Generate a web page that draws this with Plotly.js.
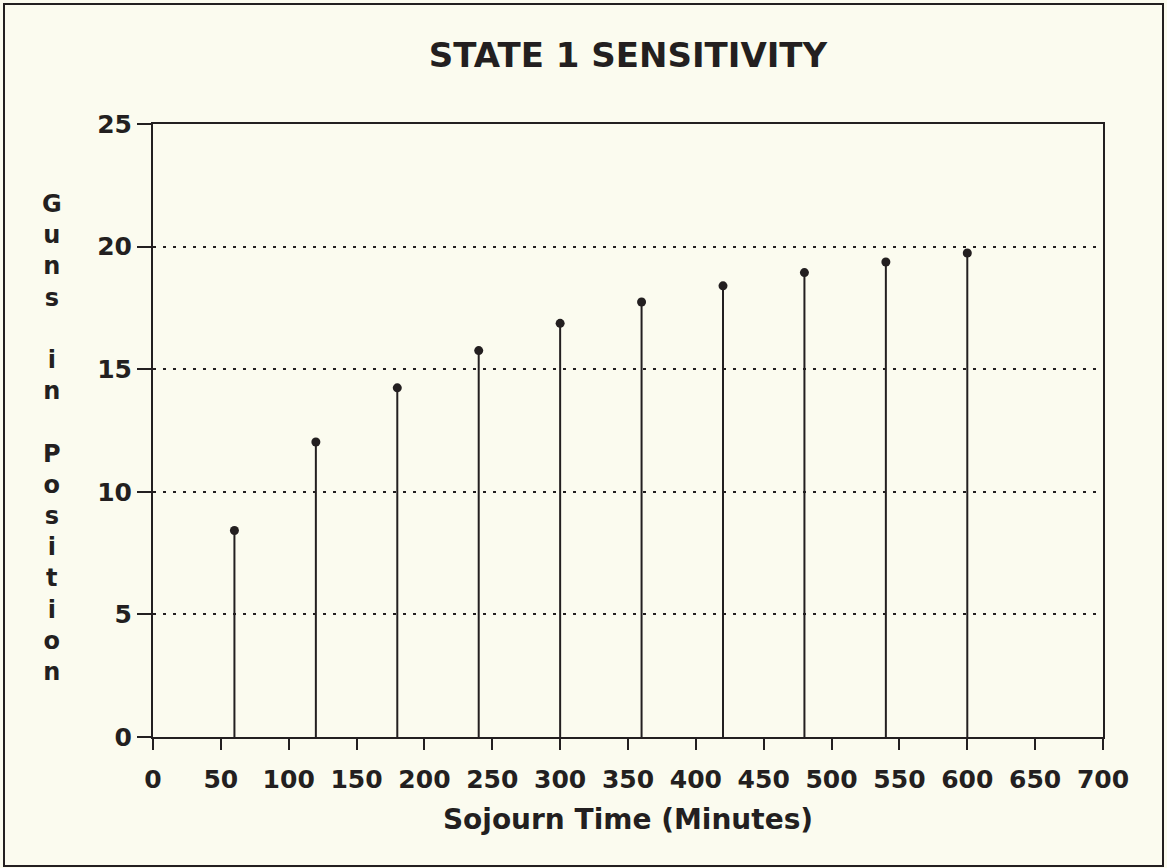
<!DOCTYPE html>
<html>
<head>
<meta charset="utf-8">
<script src="https://cdn.plot.ly/plotly-3.0.1.min.js"></script>
<style>
html, body { margin: 0; padding: 0; background: #fbfbef; }
#chart { width: 1167px; height: 868px; }
</style>
</head>
<body>
<div id="chart"></div>
<script>
// Data
const sojournTime = [60, 120, 180, 240, 300, 360, 420, 480, 540, 600];
const gunsInPosition = [8.42, 12.03, 14.24, 15.76, 16.87, 17.74, 18.40, 18.94, 19.37, 19.74];
const xTicks = [0, 50, 100, 150, 200, 250, 300, 350, 400, 450, 500, 550, 600, 650, 700];
const yTicks = [0, 5, 10, 15, 20, 25];
const titleText = "STATE 1 SENSITIVITY";
const xTitle = "Sojourn Time (Minutes)";
const yTitleWords = ["Guns", "in", "Position"];

const W = 1167, H = 868;
const margin = { l: 153, r: 64, t: 124, b: 131 };
const pw = W - margin.l - margin.r, ph = H - margin.t - margin.b;
const px2x = p => (p - margin.l) / pw;
const py2y = p => 1 - (p - margin.t) / ph;

const ink = "#231f20";
const bg = "#fbfbef";
const fontFam = "DejaVu Sans, sans-serif";

// vertical stacked y title: each letter on its own line, words separated by a blank line
const yTitleStack = yTitleWords.map(w => w.split("").join("<br>")).join("<br> <br>");

const trace = {
  type: "scatter",
  mode: "markers",
  x: sojournTime,
  y: gunsInPosition,
  marker: { symbol: "circle", size: 9, color: ink },
  error_y: {
    type: "data",
    symmetric: false,
    array: gunsInPosition.map(() => 0),
    arrayminus: gunsInPosition,
    color: ink,
    thickness: 2,
    width: 0
  },
  hoverinfo: "x+y",
  showlegend: false
};

const layout = {
  width: W,
  height: H,
  margin: margin,
  paper_bgcolor: bg,
  plot_bgcolor: bg,
  font: { family: fontFam, color: ink, size: 25 },
  title: {
    text: "<b>" + titleText + "</b>",
    font: { family: fontFam, size: 34, color: ink },
    x: 0.5, xref: "paper", xanchor: "center",
    y: 1 - 55 / H, yref: "container", yanchor: "middle"
  },
  xaxis: {
    range: [0, 700],
    tickvals: xTicks,
    ticktext: xTicks.map(v => "<b>" + v + "</b>"),
    ticks: "outside", ticklen: 11, tickwidth: 2, tickcolor: ink,
    ticklabelstandoff: 8,
    showline: true, linewidth: 2, linecolor: ink, mirror: true,
    showgrid: false, zeroline: false,
    tickfont: { family: fontFam, size: 25, color: ink },
    title: {
      text: "<b>" + xTitle + "</b>",
      font: { family: fontFam, size: 28, color: ink },
      standoff: 16
    },
    fixedrange: true
  },
  yaxis: {
    range: [0, 25],
    tickvals: yTicks,
    ticktext: yTicks.map(v => "<b>" + v + "</b>"),
    ticks: "outside", ticklen: 14, tickwidth: 2, tickcolor: ink,
    showline: true, linewidth: 2, linecolor: ink, mirror: true,
    showgrid: true, gridcolor: ink, gridwidth: 2, griddash: "3px,7px",
    zeroline: false,
    tickfont: { family: fontFam, size: 25, color: ink },
    fixedrange: true
  },
  annotations: [{
    text: "<b>" + yTitleStack + "</b>",
    xref: "paper", yref: "paper",
    x: px2x(52), y: py2y(438),
    xanchor: "center", yanchor: "middle",
    showarrow: false,
    align: "center",
    font: { family: fontFam, size: 24, color: ink }
  }],
  shapes: [{
    type: "rect", xref: "paper", yref: "paper",
    x0: px2x(4), x1: px2x(1163), y0: py2y(866), y1: py2y(4),
    line: { color: ink, width: 2 }, fillcolor: "rgba(0,0,0,0)", layer: "below"
  }]
};

Plotly.newPlot("chart", [trace], layout, { displayModeBar: false, staticPlot: true });
</script>
</body>
</html>
